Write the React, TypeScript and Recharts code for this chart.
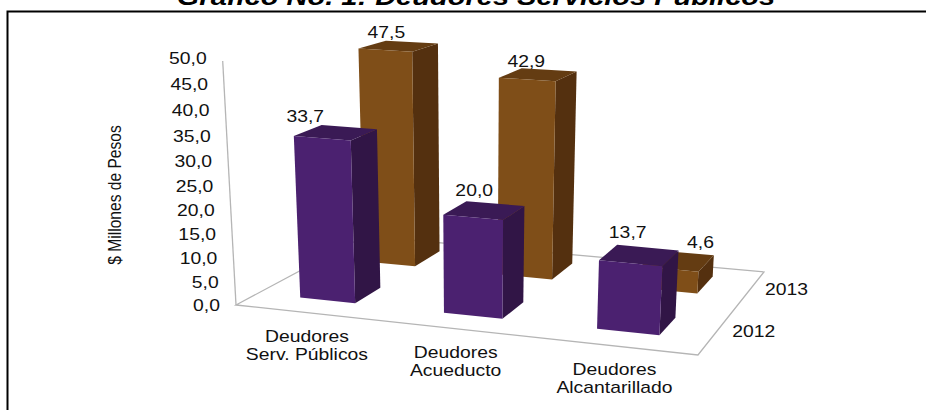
import React from 'react';
import { BarChart, Bar, XAxis, YAxis, LabelList } from 'recharts';

const categories = ['Deudores\nServ. Públicos', 'Deudores\nAcueducto', 'Deudores\nAlcantarillado'];
const values2012 = [33.7, 20.0, 13.7];
const values2013 = [47.5, 42.9, 4.6];
const yTicks = [0, 5, 10, 15, 20, 25, 30, 35, 40, 45, 50];
const chartData = categories.map((name, i) => ({
    name,
    y2012: values2012[i],
    y2013: values2013[i],
}));

const WIDTH = 926;
const HEIGHT = 410;
const FONT = '"Liberation Sans", Arial, sans-serif';
const PLOT_LEFT = 236;
const PLOT_WIDTH = 462;
const PLOT_TOP = 58;
const PLOT_BOTTOM = 305;
const BAR_SIZE = 60;
const STRETCH = 1.21;

const fmt = (v: number) => v.toFixed(1).replace('.', ',');

// floor of the 3D box: maps (across, depth) in 0..1 to the page
function floor(u: number, v: number) {
    const w = -0.0935 * u + 0.1734 * v + 1;
    return {
        x: (396.7 * u + 192.3 * v + 236) / w,
        y: (16.8 * u - 28.1 * v + 305) / w,
    };
}

// uprights lean away from a far vanishing point, and depth shrinks the height
function project(u: number, v: number, h: number) {
    const base = floor(u, v);
    const px = (h * (4.86 - 0.63 * v + 0.3 * u)) / 4.94;
    return { x: 473 + (base.x - 473) * (1 + 0.00023 * px), y: base.y - px };
}

const poly = (pts: { x: number; y: number }[]) => pts.map((p) => `${p.x},${p.y}`).join(' ');
const toU = (x: number) => (x - PLOT_LEFT) / PLOT_WIDTH;

function Bar3D(props: any) {
    const { x, width, height, v0, v1, front, side, top } = props;
    const u0 = toU(x);
    const u1 = toU(x + width);
    return (
        <g>
            <polygon fill={side} points={poly([project(u1, v0, 0), project(u1, v1, 0), project(u1, v1, height), project(u1, v0, height)])} />
            <polygon fill={top} points={poly([project(u0, v0, height), project(u1, v0, height), project(u1, v1, height), project(u0, v1, height)])} />
            <polygon fill={front} points={poly([project(u0, v0, 0), project(u1, v0, 0), project(u1, v0, height), project(u0, v0, height)])} />
        </g>
    );
}

function StretchedText({ x, y, anchor = 'middle', size = 16, children }: any) {
    return (
        <text
            transform={`translate(${x},${y}) scale(${STRETCH},1)`}
            textAnchor={anchor}
            dominantBaseline="central"
            fontFamily={FONT}
            fontSize={size}
            fill="#111"
        >
            {children}
        </text>
    );
}

function YTick({ y, payload }: any) {
    const h = PLOT_BOTTOM - y;
    const py = PLOT_BOTTOM - h * (0.93 + 0.00028 * h);
    const lineX = project(0, 0, h).x;
    return (
        <StretchedText x={lineX - 16} y={py + 0.5} anchor="end">
            {fmt(payload.value)}
        </StretchedText>
    );
}

function XTick({ x, payload }: any) {
    const p = floor(toU(x), 0);
    const lines = String(payload.value).split('\n');
    return (
        <g>
            {lines.map((line, i) => (
                <StretchedText key={line} x={p.x} y={p.y + 24 + i * 18}>
                    {line}
                </StretchedText>
            ))}
        </g>
    );
}

function barLabel(v0: number, v1: number, nudges: number[][]) {
    return (props: any) => {
        const { x, y, width, height, value, index } = props;
        const u0 = toU(x);
        const u1 = toU(x + width);
        const a = project(u0, v0, height);
        const b = project(u1, v0, height);
        const back = project(u0, v1, height);
        const [dx, dy] = nudges[index];
        return (
            <StretchedText x={(a.x + b.x) / 2 + dx} y={back.y + dy}>
                {fmt(value)}
            </StretchedText>
        );
    };
}

function Frame() {
    const fl = floor(0, 0);
    const fr = floor(1, 0);
    const br = floor(1, 1);
    const bl = floor(0, 1);
    const axisTop = project(0, 0, 248);
    return (
        <g>
            <path d="M7.5 410 V11.5 H926" fill="none" stroke="#000" strokeWidth={2} />
            <text
                transform={`translate(476,4.5) scale(${STRETCH},1)`}
                textAnchor="middle"
                fontFamily={FONT}
                fontSize={24}
                fontWeight="bold"
                fontStyle="italic"
                fill="#000"
            >
                Gráfico No. 1: Deudores Servicios Públicos
            </text>
            <text
                transform="translate(115,195) scale(1.15,1) rotate(-90)"
                textAnchor="middle"
                dominantBaseline="central"
                fontFamily={FONT}
                fontSize={15.6}
                fill="#111"
            >
                $ Millones de Pesos
            </text>
            <polygon points={poly([fl, fr, br, bl])} fill="none" stroke="#b5b5b5" strokeWidth={1.3} />
            <line x1={fl.x} y1={fl.y} x2={axisTop.x} y2={axisTop.y} stroke="#b5b5b5" strokeWidth={1.3} />
            <StretchedText x={floor(1, 0.25).x + 37} y={floor(1, 0.25).y}>2012</StretchedText>
            <StretchedText x={floor(1, 0.75).x + 37} y={floor(1, 0.75).y - 0.5}>2013</StretchedText>
        </g>
    );
}

export default function App() {
    return (
        <div style={{ position: 'absolute', left: 0, top: 0, width: WIDTH, height: HEIGHT, overflow: 'hidden', background: '#fff' }}>
            <BarChart
                width={WIDTH}
                height={HEIGHT}
                data={chartData}
                margin={{ top: PLOT_TOP, right: WIDTH - PLOT_LEFT - PLOT_WIDTH, bottom: HEIGHT - PLOT_BOTTOM - 30, left: 0 }}
                barSize={BAR_SIZE}
                barGap={-BAR_SIZE}
            >
                <Frame />
                <XAxis dataKey="name" height={30} axisLine={false} tickLine={false} interval={0} tick={<XTick />} />
                <YAxis width={PLOT_LEFT} domain={[0, 50]} ticks={yTicks} axisLine={false} tickLine={false} interval={0} tick={<YTick />} />
                <Bar
                    dataKey="y2013"
                    isAnimationActive={false}
                    shape={(p: any) => <Bar3D {...p} v0={0.65} v1={0.88} front="#7f4e18" side="#54300f" top="#643c12" />}
                >
                    <LabelList
                        dataKey="y2013"
                        content={barLabel(0.65, 0.88, [[1, -8], [-1, -7], [31, -8]])}
                    />
                </Bar>
                <Bar
                    dataKey="y2012"
                    isAnimationActive={false}
                    shape={(p: any) => <Bar3D {...p} v0={0.15} v1={0.35} front="#4b2170" side="#311546" top="#3a1a55" />}
                >
                    <LabelList
                        dataKey="y2012"
                        content={barLabel(0.15, 0.35, [[-17, -8], [1, -11], [-3, -12]])}
                    />
                </Bar>
            </BarChart>
        </div>
    );
}
